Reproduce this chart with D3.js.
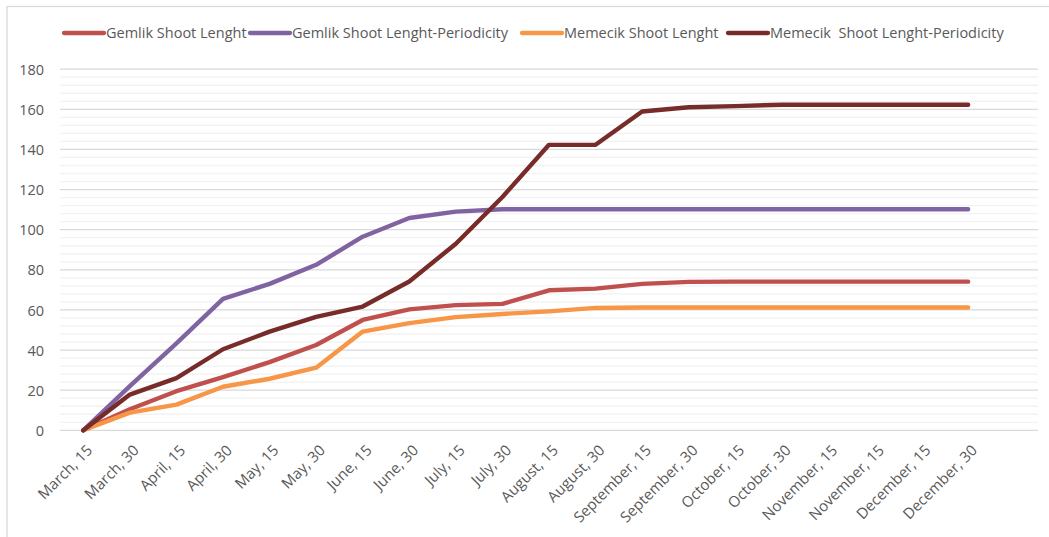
<!DOCTYPE html>
<html>
<head>
<meta charset="utf-8">
<script src="https://cdn.jsdelivr.net/npm/d3@7"></script>
<style>
  html, body { margin: 0; padding: 0; background: #fff; }
  svg { display: block; }
  text { font-family: "Open Sans", "Noto Sans", sans-serif; fill: #595959; }
</style>
</head>
<body>
<svg id="chart" width="1049" height="537"></svg>
<script>
const categories = ["March, 15","March, 30","April, 15","April, 30","May, 15","May, 30","June, 15","June, 30","July, 15","July, 30","August, 15","August, 30","September, 15","September, 30","October, 15","October, 30","November, 15","November, 15","December, 15","December, 30"];
const gemlikLength = [0,10.5,19.5,26.5,34,42.5,55,60.3,62.4,63,69.8,70.6,73,74,74.1,74.1,74.1,74.1,74.1,74.1];
const gemlikPeriodicity = [0,22,43.3,65.5,73,82.5,96.5,105.8,109,110.2,110.2,110.2,110.2,110.2,110.2,110.2,110.2,110.2,110.2,110.2];
const memecikLength = [0,8.8,12.8,21.7,25.7,31.2,49.2,53.4,56.4,58,59.3,61,61.2,61.2,61.2,61.2,61.2,61.2,61.2,61.2];
const memecikPeriodicity = [0,17.8,26,40.4,49.2,56.5,61.7,74.2,93,116.3,142.3,142.3,158.9,161,161.6,162.3,162.3,162.3,162.3,162.3];
const seriesNames = ["Gemlik Shoot Lenght","Gemlik Shoot Lenght-Periodicity","Memecik Shoot Lenght","Memecik  Shoot Lenght-Periodicity"];
const seriesColors = ["#C0504D","#8064A2","#F79646","#772C2A"];
const yTicks = [0,20,40,60,80,100,120,140,160,180];

const series = [gemlikLength, gemlikPeriodicity, memecikLength, memecikPeriodicity];

const svg = d3.select("#chart");
const plotLeft = 60, plotRight = 1038, plotTop = 69.2, plotBottom = 430.3;
const slotCount = categories.length + 1;
const bandW = (plotRight - plotLeft) / slotCount;

// outer border (top & left visible)
svg.append("rect").attr("x", 7).attr("y", 6.5).attr("width", 1100).attr("height", 600)
  .attr("fill", "none").attr("stroke", "#d9d9d9").attr("stroke-width", 1.3);

const x = d3.scaleBand().domain(categories.map((c, i) => i)).range([plotLeft, plotLeft + bandW * categories.length]);
const y = d3.scaleLinear().domain([0, 180]).range([plotBottom, plotTop]);

// minor gridlines
const minor = d3.range(4, 180, 4).filter(v => v % 20 !== 0);
svg.append("g").selectAll("line").data(minor).join("line")
  .attr("x1", plotLeft).attr("x2", plotRight)
  .attr("y1", d => y(d)).attr("y2", d => y(d))
  .attr("stroke", "#f2f2f2").attr("stroke-width", 1.3);

// major gridlines
svg.append("g").selectAll("line").data(yTicks).join("line")
  .attr("x1", plotLeft).attr("x2", plotRight)
  .attr("y1", d => y(d)).attr("y2", d => y(d))
  .attr("stroke", "#d9d9d9").attr("stroke-width", 1.3);

// y axis labels
const yAxis = d3.axisLeft(y).tickValues(yTicks).tickSize(0).tickPadding(0);
const gy = svg.append("g").attr("transform", `translate(44,0)`).call(yAxis);
gy.select(".domain").remove();
gy.selectAll("text").attr("font-size", 14.5).style("fill", "#595959")
  .style("font-family", '"Open Sans", "Noto Sans", sans-serif').attr("dy", "0.35em");

// x axis labels
const xAxis = d3.axisBottom(x).tickFormat(i => categories[i]).tickSize(0).tickPadding(0);
const gx = svg.append("g").attr("transform", `translate(0,${plotBottom})`).call(xAxis);
gx.select(".domain").remove();
gx.selectAll("text")
  .attr("font-size", 15).style("fill", "#595959")
  .style("font-family", '"Open Sans", "Noto Sans", sans-serif')
  .attr("text-anchor", "end")
  .attr("x", 0).attr("y", 0).attr("dy", 0)
  .attr("transform", "translate(10,21) rotate(-45)");

// lines
const line = d3.line().x((d, i) => x(i) + x.bandwidth() / 2).y(d => y(d));
svg.append("g").selectAll("path").data(series).join("path")
  .attr("d", d => line(d))
  .attr("fill", "none")
  .attr("stroke", (d, i) => seriesColors[i])
  .attr("stroke-width", 4.4)
  .attr("stroke-linejoin", "round")
  .attr("stroke-linecap", "round");

// legend
const legend = svg.append("g").attr("transform", "translate(0,33)");
const legendX = [64, 250, 522, 728];
seriesNames.forEach((name, i) => {
  const g = legend.append("g").attr("transform", `translate(${legendX[i]},0)`);
  g.append("line").attr("x1", 0).attr("x2", 40).attr("y1", 0).attr("y2", 0)
    .attr("stroke", seriesColors[i]).attr("stroke-width", 4.3).attr("stroke-linecap", "round");
  g.append("text").attr("x", 42).attr("y", 0).attr("dy", "0.35em")
    .attr("font-size", 14.5).style("white-space", "pre")
    .attr("xml:space", "preserve")
    .text(name);
});
</script>
</body>
</html>
